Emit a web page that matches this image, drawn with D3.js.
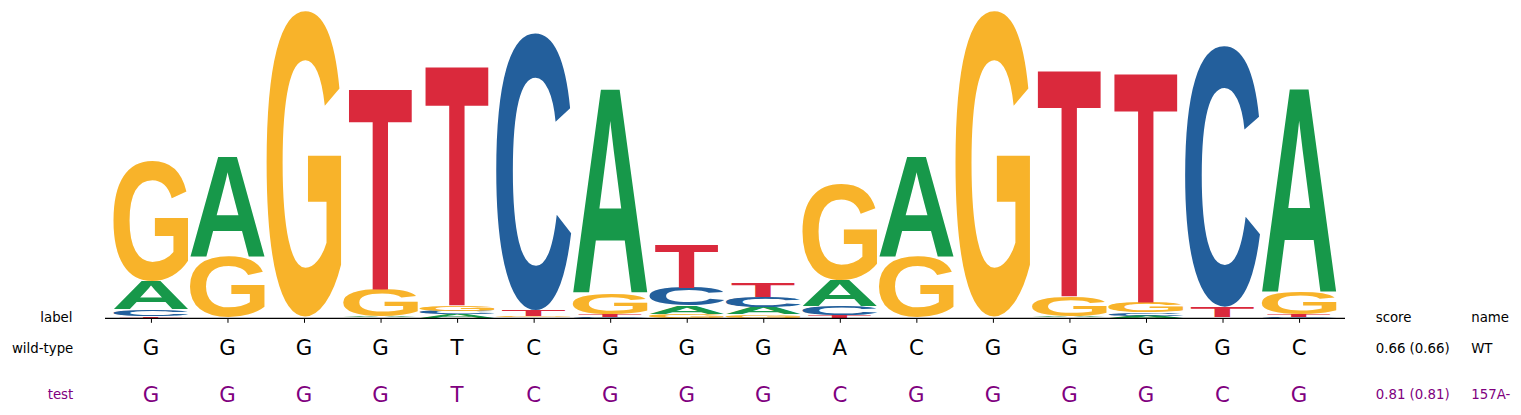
<!DOCTYPE html>
<html>
<head>
<meta charset="utf-8">
<script src="https://cdn.jsdelivr.net/npm/d3@7"></script>
<style>
  html, body { margin: 0; padding: 0; background: #fff; }
  svg { display: block; }
</style>
</head>
<body>
<svg id="chart" width="1521" height="415"></svg>
<script>
// ---------- data ----------
const positions = d3.range(16);
const bases = ["A", "C", "G", "T"];
// letter heights (bits) per position
const heightA = [0.180, 0.645, 0.003, 0.004, 0.020, 0.002, 1.320, 0.052, 0.045, 0.168, 0.645, 0.003, 0.004, 0.013, 0.002, 1.316];
const heightC = [0.045, 0.003, 0.002, 0.003, 0.025, 1.790, 0.006, 0.116, 0.070, 0.058, 0.003, 0.002, 0.003, 0.020, 1.685, 0.006];
const heightG = [0.770, 0.390, 1.974, 0.175, 0.035, 0.006, 0.135, 0.025, 0.020, 0.620, 0.390, 1.974, 0.130, 0.065, 0.003, 0.140];
const heightT = [0.010, 0.003, 0.002, 1.300, 1.550, 0.040, 0.013, 0.284, 0.090, 0.013, 0.003, 0.002, 1.465, 1.485, 0.065, 0.013];
const rowLabels = ["wild-type", "test"];
const wildTypeSeq = ["G","G","G","G","T","C","G","G","G","A","C","G","G","G","G","C"];
const testSeq     = ["G","G","G","G","T","C","G","G","G","C","G","G","G","G","C","G"];
const scores = ["0.66 (0.66)", "0.81 (0.81)"];
const names = ["WT", "157A-"];
const headerLabels = ["label", "score", "name"];

// ---------- styles ----------
const baseColor = { A: "#17984a", C: "#235f9c", G: "#f8b32a", T: "#da293c" };
const rowColor = ["#000000", "#800080"];
const textFont = '"DejaVu Sans", sans-serif';

const svg = d3.select("#chart");

const x = d3.scaleLinear().domain([-0.6, 15.6]).range([105, 1345]);
const y = d3.scaleLinear().domain([0, 2]).range([317.6, 7.6]);
const step = x(1) - x(0);

// glyph ink metrics
const cnv = document.createElement("canvas");
const ctx = cnv.getContext("2d");
const glyphFontSize = 200;
ctx.font = `bold ${glyphFontSize}px "Liberation Sans"`;
const metrics = {};
bases.forEach(b => {
  const m = ctx.measureText(b);
  metrics[b] = {
    left: m.actualBoundingBoxLeft,
    right: m.actualBoundingBoxRight,
    asc: m.actualBoundingBoxAscent,
    desc: m.actualBoundingBoxDescent
  };
});

const heights = { A: heightA, C: heightC, G: heightG, T: heightT };
const glyphs = [];
positions.forEach(i => {
  const col = bases.map(b => ({ base: b, h: heights[b][i] })).sort((a, b) => a.h - b.h);
  let floor = 0;
  col.forEach(d => {
    glyphs.push({ pos: i, base: d.base, y0: floor, y1: floor + d.h });
    floor += d.h;
  });
});

const gLogo = svg.append("g");
gLogo.selectAll("text.glyph")
  .data(glyphs)
  .join("text")
  .attr("class", "glyph")
  .attr("font-family", '"Liberation Sans", Arial, sans-serif')
  .attr("font-weight", "bold")
  .attr("font-size", glyphFontSize)
  .attr("fill", d => baseColor[d.base])
  .attr("x", 0).attr("y", 0)
  .text(d => d.base)
  .attr("transform", d => {
    const m = metrics[d.base];
    const fullW = step * 0.98;
    const w = d.base === "T" ? fullW * 0.845 : fullW;
    const bx = x(d.pos) - w / 2;
    const top = y(d.y1);
    const h = y(d.y0) - y(d.y1);
    const sx = w / (m.left + m.right);
    const sy = h / (m.asc + m.desc);
    return `translate(${bx + m.left * sx},${top + m.asc * sy}) scale(${sx},${sy})`;
  });

// x axis
const axis = svg.append("g").attr("transform", "translate(0,318.3)")
  .call(d3.axisBottom(x).tickValues(positions).tickSize(4.5).tickFormat(""));
axis.select(".domain").attr("d", `M${x.range()[0]},0H${x.range()[1]}`).attr("stroke", "#000").attr("stroke-width", 1.3);
axis.selectAll(".tick line").attr("stroke", "#000").attr("stroke-width", 1);

// header labels
svg.append("text").attr("x", 72.5).attr("y", 322.3).attr("text-anchor", "end")
  .attr("font-family", textFont).attr("font-size", 13.33).text(headerLabels[0]);
svg.append("text").attr("x", 1375.7).attr("y", 322.3)
  .attr("font-family", textFont).attr("font-size", 13.33).text(headerLabels[1]);
svg.append("text").attr("x", 1471.2).attr("y", 322.3)
  .attr("font-family", textFont).attr("font-size", 13.33).text(headerLabels[2]);

// rows
const seqs = [wildTypeSeq, testSeq];
const textBase = [353.3, 399.3];
const letterBase = [355.3, 401.8];
seqs.forEach((seq, r) => {
  svg.append("text").attr("x", 73.3).attr("y", textBase[r]).attr("text-anchor", "end")
    .attr("font-family", textFont).attr("font-size", 13.33).attr("fill", rowColor[r]).text(rowLabels[r]);
  svg.append("g").selectAll("text")
    .data(seq)
    .join("text")
    .attr("x", (d, i) => x(i))
    .attr("y", letterBase[r])
    .attr("text-anchor", "middle")
    .attr("font-family", textFont)
    .attr("font-size", 21.3)
    .attr("fill", rowColor[r])
    .text(d => d);
  svg.append("text").attr("x", 1375.7).attr("y", textBase[r])
    .attr("font-family", textFont).attr("font-size", 13.33).attr("fill", rowColor[r]).text(scores[r]);
  svg.append("text").attr("x", 1471.2).attr("y", textBase[r])
    .attr("font-family", textFont).attr("font-size", 13.33).attr("fill", rowColor[r]).text(names[r]);
});
</script>
</body>
</html>
